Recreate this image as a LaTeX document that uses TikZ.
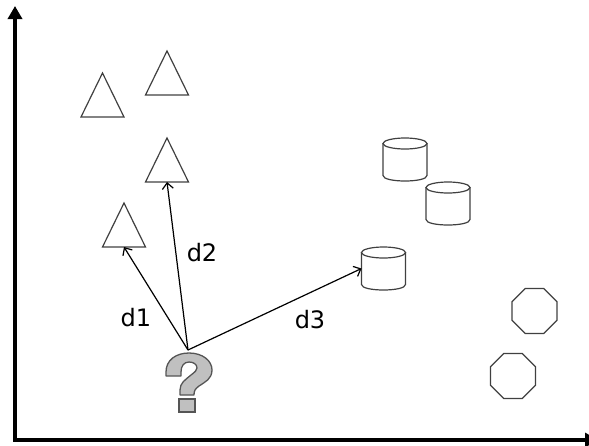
\documentclass[tikz,border=0pt]{standalone}
\usepackage{fontspec}
\setmainfont{DejaVu Sans}
\usetikzlibrary{arrows.meta,shapes.geometric}
\definecolor{qfill}{HTML}{C0C0C0}
\definecolor{qline}{HTML}{555555}
\definecolor{shp}{HTML}{404040}
\begin{document}
\begin{tikzpicture}[x=1pt,y=-1pt,
  axis/.style={line width=3.4pt, line join=miter, {Triangle[length=13pt,width=14pt]}-{Triangle[length=13pt,width=14pt]}},
  shapeline/.style={draw=shp, line width=1.2pt},
  conn/.style={line width=1.2pt, -{Straight Barb[length=6pt,width=11pt]}},
  lbl/.style={font=\fontsize{24}{24}\selectfont, inner sep=0pt},
  oct/.style={regular polygon, regular polygon sides=8, minimum size=48.7pt, inner sep=0pt, outer sep=0pt, shapeline},
  pics/tri/.style={code={
    \draw[shapeline] (0,-44) -- (21.5,0) -- (-21.5,0) -- cycle;
    \coordinate (-b) at (0,0);}},
  pics/cyl/.style={code={
    \draw[shapeline] (-22,-37.5) -- (-22,-5.5) .. controls (-22,1.83) and (22,1.83) .. (22,-5.5) -- (22,-37.5);
    \draw[shapeline] (0,-37.5) ellipse [x radius=22pt, y radius=5.5pt];
    \coordinate (-w) at (-22,-21.5);}},
]
\useasboundingbox (0,0) rectangle (589,445);
% axes
\coordinate (ytop) at (15,6);
\coordinate (orig) at (15,440);
\coordinate (xend) at (598,440);
\draw[axis] (ytop) -- (orig) -- (xend);
% triangles
\pic (t1) at (102.5,117) {tri};
\pic (t2) at (167,95) {tri};
\pic (t3) at (167,182) {tri};
\pic (t4) at (124,247) {tri};
% cylinders
\pic (c1) at (405,181) {cyl};
\pic (c2) at (448,225) {cyl};
\pic (c3) at (383.5,290) {cyl};
% octagons
\node[oct] (o1) at (534.5,311) {};
\node[oct] (o2) at (513,376) {};
% question mark
\draw[fill=qfill, draw=qline, line width=1.3pt, line join=round]
  (166,376) -- (166,372) .. controls (166,360) and (176,353) .. (189,353)
  .. controls (203,353) and (212,361) .. (212,370)
  .. controls (212,379) and (205,382) .. (199,386)
  .. controls (195,389) and (194,391) .. (194,395)
  -- (180,395) -- (180,390)
  .. controls (180,383) and (185,380) .. (191,375)
  .. controls (195,372) and (197,370) .. (197,368)
  .. controls (197,364) and (193,362) .. (189,362)
  .. controls (184,362) and (181,366) .. (181,372)
  -- (181,376) -- cycle;
\draw[fill=qfill, draw=qline, line width=1.3pt] (179,399) rectangle (195,412);
\coordinate (q) at (188,350);
% connectors
\draw[conn] (q) -- (t4-b);
\draw[conn] (q) -- (t3-b);
\draw[conn] (q) -- (c3-w);
% labels
\node[lbl] (l1) at (136,318) {d1};
\node[lbl] (l2) at (202,253) {d2};
\node[lbl] (l3) at (310,320) {d3};
\end{tikzpicture}
\end{document}
